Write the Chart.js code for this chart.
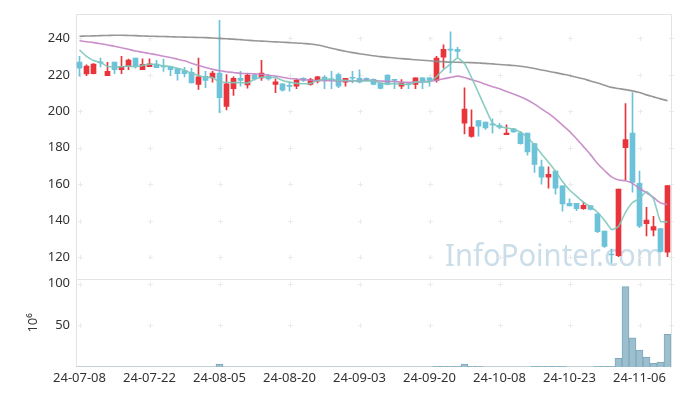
<!DOCTYPE html>
<html><head><meta charset="utf-8">
<script src="https://cdn.jsdelivr.net/npm/chart.js@4"></script>
<style>html,body{margin:0;padding:0;background:#fff}#wrap{width:680px;height:396px}</style>
</head><body><div id="wrap"><canvas id="c" width="680" height="396"></canvas></div>
<script>
const dates = ["24-07-08","24-07-09","24-07-10","24-07-11","24-07-12","24-07-15","24-07-16","24-07-17","24-07-18","24-07-19",
"24-07-22","24-07-23","24-07-24","24-07-25","24-07-26","24-07-29","24-07-30","24-07-31","24-08-01","24-08-02",
"24-08-05","24-08-06","24-08-07","24-08-08","24-08-09","24-08-12","24-08-13","24-08-14","24-08-16","24-08-19",
"24-08-20","24-08-21","24-08-22","24-08-23","24-08-26","24-08-27","24-08-28","24-08-29","24-08-30","24-09-02",
"24-09-03","24-09-04","24-09-05","24-09-06","24-09-09","24-09-10","24-09-11","24-09-12","24-09-13","24-09-19",
"24-09-20","24-09-23","24-09-24","24-09-25","24-09-26","24-09-27","24-09-30","24-10-02","24-10-04","24-10-07",
"24-10-08","24-10-10","24-10-11","24-10-14","24-10-15","24-10-16","24-10-17","24-10-18","24-10-21","24-10-22",
"24-10-23","24-10-24","24-10-25","24-10-28","24-10-29","24-10-30","24-10-31","24-11-01","24-11-04","24-11-05",
"24-11-06","24-11-07","24-11-08","24-11-11","24-11-12"];
const opens = [227.0,220.5,220.7,227.0,219.6,227.0,222.8,224.6,229.2,222.8,
224.5,225.9,224.6,224.6,223.4,222.3,221.4,214.7,219.2,218.3,
221.0,202.6,212.4,218.1,214.5,219.9,218.3,219.2,214.7,215.1,
214.3,213.8,218.1,214.7,216.5,218.7,217.8,220.1,216.0,218.5,
218.1,218.1,217.5,215.3,219.8,217.3,213.8,215.0,214.7,218.3,
218.3,216.9,229.7,234.0,234.0,193.4,186.2,194.9,194.0,192.8,
192.1,187.2,190.4,188.0,188.0,182.2,169.5,163.8,167.2,159.1,
149.5,149.5,146.6,148.2,143.7,134.3,121.5,120.8,180.0,188.0,
160.5,138.3,134.8,135.6,122.6];
const highs = [230.1,225.5,226.2,229.2,226.8,227.0,230.1,228.6,229.2,228.8,
228.8,227.9,228.6,224.6,223.4,224.1,223.7,229.2,221.9,221.9,
249.9,220.1,218.9,221.9,220.7,220.3,227.9,220.1,217.8,215.1,
216.0,217.8,218.5,218.1,219.2,219.6,221.9,221.0,218.1,221.9,
222.8,218.3,217.8,215.5,220.0,217.5,217.4,215.3,218.3,218.5,
218.5,230.1,236.4,243.6,235.1,212.9,200.8,194.9,194.0,195.8,
193.4,192.5,190.6,189.0,188.0,182.2,173.2,169.5,167.2,159.1,
152.0,149.5,150.2,148.2,143.7,134.3,124.4,157.3,204.2,210.2,
167.2,147.3,142.4,135.6,159.2];
const lows = [219.2,219.6,220.5,224.3,219.6,220.7,220.7,222.8,223.7,222.8,
224.5,223.9,221.9,219.6,217.1,218.9,215.6,212.0,212.9,216.0,
199.3,200.8,208.7,213.8,212.7,217.1,216.9,217.1,210.2,211.1,
211.1,212.4,216.2,214.3,215.6,212.4,212.4,212.9,213.8,215.6,
215.6,216.5,214.5,212.3,214.5,212.4,212.4,212.4,212.4,212.4,
213.8,216.0,223.7,221.0,229.9,187.6,185.8,186.4,190.0,188.0,
190.4,187.2,188.4,182.0,175.9,166.5,160.0,157.8,154.5,145.1,
148.0,145.5,146.1,145.8,133.4,125.3,116.6,120.2,162.3,155.6,
136.1,131.6,131.6,122.6,120.2];
const closes = [223.7,224.8,225.9,226.6,221.9,222.8,224.6,228.1,224.6,225.7,
226.1,223.9,224.3,222.8,220.7,220.7,215.6,218.9,216.9,221.0,
207.5,215.1,218.1,216.9,219.9,217.8,221.0,217.8,216.2,211.6,
213.6,217.1,216.9,217.4,218.9,217.1,217.1,213.8,218.1,218.1,
216.0,216.9,214.7,212.5,214.7,217.0,215.3,214.6,218.3,216.0,
217.0,229.2,234.0,233.6,232.8,201.2,191.3,191.8,190.8,192.5,
191.3,188.0,188.6,182.2,177.7,170.8,163.8,165.4,157.8,149.1,
148.0,146.6,148.4,146.1,133.9,125.8,121.1,157.3,184.4,160.9,
137.0,140.3,136.7,123.1,159.2];
const ma5 = [233.7,230.1,227.9,226.8,224.6,224.4,224.4,224.8,224.4,225.2,
225.8,225.7,224.9,224.6,223.6,222.5,220.8,219.7,218.6,218.6,
216.0,215.9,215.7,215.7,215.5,217.6,218.7,218.7,218.5,216.9,
216.0,215.3,215.1,215.3,216.8,217.5,217.5,216.9,217.0,216.8,
216.6,216.6,216.8,215.6,215.0,215.2,214.8,214.8,216.0,216.2,
216.2,219.0,222.9,226.0,229.3,226.2,218.6,210.1,201.6,193.5,
191.5,190.9,190.2,188.5,185.6,181.5,176.6,172.0,167.1,161.4,
156.8,153.4,150.0,147.6,144.6,140.2,135.1,136.8,144.5,149.9,
152.1,156.0,151.9,139.6,139.3];
const ma20 = [238.7,238.2,237.7,237.1,236.4,235.7,234.9,234.0,233.1,232.4,
231.7,231.0,230.2,229.5,228.6,227.7,226.4,225.1,224.0,223.0,
222.2,221.7,221.3,220.8,220.7,220.5,220.3,219.8,219.3,218.6,
218.0,217.7,217.3,217.0,216.9,216.8,216.8,216.6,216.6,216.5,
216.9,217.0,216.8,216.6,216.4,216.3,216.0,215.9,216.0,216.2,
216.4,217.0,217.8,218.6,219.3,218.5,217.3,216.2,214.8,213.5,
212.3,210.8,209.5,208.0,206.2,203.9,201.3,198.8,195.8,192.4,
189.0,184.9,180.6,176.2,171.3,167.5,164.0,162.3,161.9,160.4,
157.6,155.3,152.7,149.7,148.8];
const ma60 = [241.2,241.3,241.4,241.5,241.6,241.7,241.7,241.6,241.5,241.3,
241.2,241.1,241.0,240.9,240.8,240.7,240.6,240.5,240.4,240.2,
240.0,239.8,239.6,239.3,239.0,238.7,238.5,238.3,238.1,237.9,
237.7,237.5,237.2,236.9,236.4,235.6,234.6,233.7,232.9,232.2,
231.6,231.0,230.5,230.0,229.6,229.2,228.9,228.6,228.3,228.0,
227.7,227.4,227.2,227.0,226.9,226.8,226.7,226.5,226.3,226.0,
225.7,225.4,225.1,224.7,224.2,223.5,222.7,222.0,221.2,220.4,
219.6,218.7,217.8,216.6,215.5,214.3,213.1,212.5,211.9,211.2,
210.3,209.0,207.9,206.8,205.8];
const volumes = [0.2,0.2,0.2,0.2,0.2,0.2,0.2,0.2,0.2,0.2,
0.2,0.2,0.2,0.2,0.2,0.2,0.2,0.2,0.2,0.2,
3.6,0.2,0.2,0.2,0.2,0.2,0.2,0.2,0.2,0.2,
0.2,0.2,0.2,0.2,0.2,0.2,0.2,0.2,0.2,0.2,
0.2,0.2,0.2,0.2,0.2,0.2,0.2,0.2,0.2,0.2,
0.2,0.9,0.9,0.9,0.9,3.5,0.9,0.9,0.2,0.2,
0.2,0.2,0.2,0.2,0.2,0.9,0.9,0.9,0.9,0.9,
0.2,0.2,0.2,0.2,0.9,0.9,0.9,10.4,96.4,34.9,
20.2,11.9,4.4,6.0,39.3];
const priceTicks = [120,140,160,180,200,220,240];
const volumeTicks = [50,100];
const labelEvery = 10;
const volumeUnit = "10\u2076";
const watermark = "InfoPointer.com";

const FONT = '"Noto Sans", "DejaVu Sans", sans-serif';
const UP = '#e8343a', DOWN = '#6cc2d9';
const candleColors = opens.map((o, i) => closes[i] >= o ? UP : DOWN);

const decor = {
  id: 'decor',
  beforeDatasetsDraw(chart) {
    const {ctx, chartArea: a, scales} = chart;
    const ys = scales.y, yv = scales.yv, xs = scales.x;
    ctx.save();
    // watermark
    ctx.font = '31px ' + FONT;
    ctx.fillStyle = 'rgba(150,188,210,0.5)';
    ctx.textAlign = 'center';
    ctx.textBaseline = 'alphabetic';
    ctx.fillText(watermark, a.right - 117, ys.bottom - 13, 218);
    // crosses at grid intersections
    ctx.strokeStyle = '#ebebeb';
    ctx.lineWidth = 1;
    const xsPos = [];
    for (let i = 0; i < dates.length; i += labelEvery) xsPos.push(Math.round(xs.getPixelForValue(i)) + 0.5);
    xsPos.push(Math.round(a.right) + 0.5);
    const ysPos = priceTicks.map(v => Math.round(ys.getPixelForValue(v)) + 0.5)
      .concat(volumeTicks.map(v => Math.round(yv.getPixelForValue(v)) + 0.5));
    ctx.beginPath();
    for (const x of xsPos) for (const y of ysPos) {
      ctx.moveTo(x - 2.5, y); ctx.lineTo(x + 2.5, y);
      ctx.moveTo(x, y - 2.5); ctx.lineTo(x, y + 2.5);
    }
    ctx.stroke();
    // frame and separator
    ctx.strokeStyle = '#e3e3e3';
    ctx.beginPath();
    const L = Math.round(a.left) + 0.5, R = Math.round(a.right) + 0.5;
    const T = Math.round(a.top) + 0.5, B = Math.round(a.bottom) - 0.5;
    const S = Math.round(ys.bottom) + 0.5;
    ctx.moveTo(L, T); ctx.lineTo(R, T); ctx.lineTo(R, B); ctx.lineTo(L, B); ctx.closePath();
    ctx.moveTo(L, S); ctx.lineTo(R, S);
    ctx.stroke();
    ctx.restore();
  }
};

new Chart(document.getElementById('c'), {
  data: {
    labels: dates,
    datasets: [
      { type: 'line', label: 'MA5', data: ma5, yAxisID: 'y', borderColor: 'rgba(125,200,188,0.9)', borderWidth: 1.6, pointRadius: 0, tension: 0.15, order: 0 },
      { type: 'line', label: 'MA20', data: ma20, yAxisID: 'y', borderColor: 'rgba(196,132,196,0.9)', borderWidth: 1.6, pointRadius: 0, tension: 0.3, order: 0 },
      { type: 'line', label: 'MA60', data: ma60, yAxisID: 'y', borderColor: 'rgba(140,140,140,0.9)', borderWidth: 1.6, pointRadius: 0, tension: 0.3, order: 0 },
      { type: 'bar', label: 'body', data: opens.map((o, i) => [o, closes[i]]), yAxisID: 'y', backgroundColor: candleColors, barThickness: 5, minBarLength: 1, grouped: false, order: 1 },
      { type: 'bar', label: 'wick', data: lows.map((l, i) => [l, highs[i]]), yAxisID: 'y', backgroundColor: candleColors, barThickness: 1, grouped: false, order: 2 },
      { type: 'bar', label: 'volume', data: volumes, yAxisID: 'yv', backgroundColor: '#9bbfcf', borderColor: '#80a8ba', borderWidth: 1, borderSkipped: 'bottom', barPercentage: 1, categoryPercentage: 1, grouped: false, order: 3 }
    ]
  },
  options: {
    responsive: false,
    devicePixelRatio: 1,
    animation: false,
    layout: { padding: { top: 10, right: 9, left: 0, bottom: 0 } },
    plugins: { legend: { display: false }, tooltip: { enabled: false } },
    scales: {
      x: {
        type: 'category', offset: true,
        grid: { display: false, drawTicks: false }, border: { display: false },
        ticks: { autoSkip: false, maxRotation: 0, minRotation: 0, padding: 3, color: '#333', font: { family: FONT, size: 13 },
          callback: (v, i) => (i % labelEvery === 0 ? dates[i] : '') },
        afterFit: s => { s.height = 29; }
      },
      yv: {
        type: 'linear', position: 'left', stack: 'main', stackWeight: 1,
        min: 0, max: 106,
        grid: { display: false, drawTicks: false }, border: { display: false },
        afterBuildTicks: s => { s.ticks = volumeTicks.map(v => ({ value: v })); },
        ticks: { padding: 6, color: '#333', font: { family: FONT, size: 13 } },
        title: { display: true, text: volumeUnit, color: '#333', font: { family: FONT, size: 13 }, padding: { top: 25, bottom: 0 } },
        afterFit: s => { s.width = 76; }
      },
      y: {
        type: 'linear', position: 'left', stack: 'main', stackWeight: 3,
        min: 108.1, max: 253.5,
        grid: { display: false, drawTicks: false }, border: { display: false },
        afterBuildTicks: s => { s.ticks = priceTicks.map(v => ({ value: v })); },
        ticks: { padding: 6, color: '#333', font: { family: FONT, size: 13 } },
        afterFit: s => { s.width = 76; }
      }
    }
  },
  plugins: [decor]
});
</script></body></html>
